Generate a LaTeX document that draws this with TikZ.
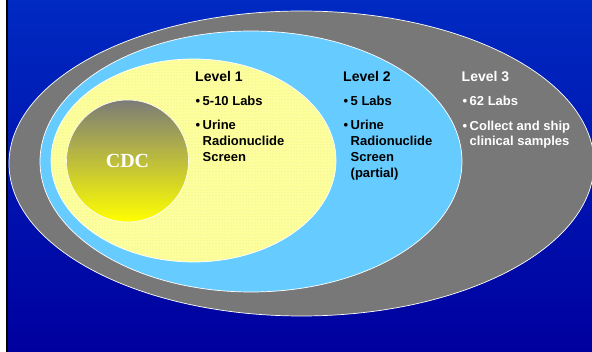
\documentclass[tikz,border=0pt]{standalone}
\usepackage{fontspec}
\setmainfont{Liberation Sans}
\newfontfamily\cdcfont{Liberation Serif}
\usetikzlibrary{patterns}
\definecolor{bgtop}{RGB}{0,42,194}
\definecolor{bgbot}{RGB}{0,0,158}
\definecolor{ringgray}{RGB}{120,120,120}
\definecolor{ringblue}{RGB}{102,204,255}
\definecolor{ringyellow}{RGB}{255,255,153}
\definecolor{dotcol}{RGB}{214,226,196}
\definecolor{cdctop}{RGB}{124,124,120}
\definecolor{cdcmid}{RGB}{196,196,84}
\newcommand\blt{\makebox[7pt][l]{•}}
\begin{document}
\begin{tikzpicture}[x=1pt,y=-1pt,
  ring/.style={draw=white,line width=0.7pt},
  txt/.style={anchor=base west,inner sep=0pt,font=\bfseries\fontsize{13}{15.8}\selectfont},
  ttl/.style={anchor=base west,inner sep=0pt,font=\bfseries\fontsize{14}{16}\selectfont}]
\useasboundingbox (0,0) rectangle (592,352);
\clip (0,0) rectangle (592,352);
\fill[white] (0,0) rectangle (5.5,352);
\fill[black] (5.5,0) rectangle (8,352);
\shade[top color=bgtop,bottom color=bgbot] (8,0) rectangle (592,352);
% rings
\draw[ring,fill=ringgray] (301.5,163.5) ellipse [x radius=292.5pt,y radius=152.5pt];
\draw[ring,fill=ringblue] (251,161.5) ellipse [x radius=211pt,y radius=130.5pt];
\fill[ringyellow] (193.5,160.5) ellipse [x radius=142.5pt,y radius=101.5pt];
\fill[pattern=dots,pattern color=dotcol] (193.5,160.5) ellipse [x radius=142.5pt,y radius=101.5pt];
\draw[ring] (193.5,160.5) ellipse [x radius=142.5pt,y radius=101.5pt];
% CDC
\node[circle,draw=white,line width=0.6pt,minimum size=122pt,inner sep=0pt,
      top color=cdctop,middle color=cdcmid,bottom color=yellow,text=white,
      font=\cdcfont\bfseries\fontsize{20}{20}\selectfont] (cdc) at (127.5,161) {CDC};
% Level 1
\node[ttl] (l1t) at (195,82) {Level 1};
\node[txt] (l1a) at (195.5,105.7) {\blt 5-10 Labs};
\node[txt] (l1b) at (195.5,130) {\blt Urine};
\node[txt] (l1c) at (202.5,146) {Radionuclide};
\node[txt] (l1d) at (202.5,161.7) {Screen};
% Level 2
\node[ttl] (l2t) at (343,82) {Level 2};
\node[txt] (l2a) at (343.5,105.7) {\blt 5 Labs};
\node[txt] (l2b) at (343.5,130) {\blt Urine};
\node[txt] (l2c) at (350.5,146) {Radionuclide};
\node[txt] (l2d) at (350.5,161.7) {Screen};
\node[txt] (l2e) at (350.5,177.3) {(partial)};
% Level 3
\node[ttl,text=white] (l3t) at (461.5,82) {Level 3};
\node[txt,text=white] (l3a) at (462.5,105.7) {\blt 62 Labs};
\node[txt,text=white] (l3b) at (462.5,130.5) {\blt Collect and ship};
\node[txt,text=white] (l3c) at (469.5,146) {clinical samples};
\end{tikzpicture}
\end{document}
